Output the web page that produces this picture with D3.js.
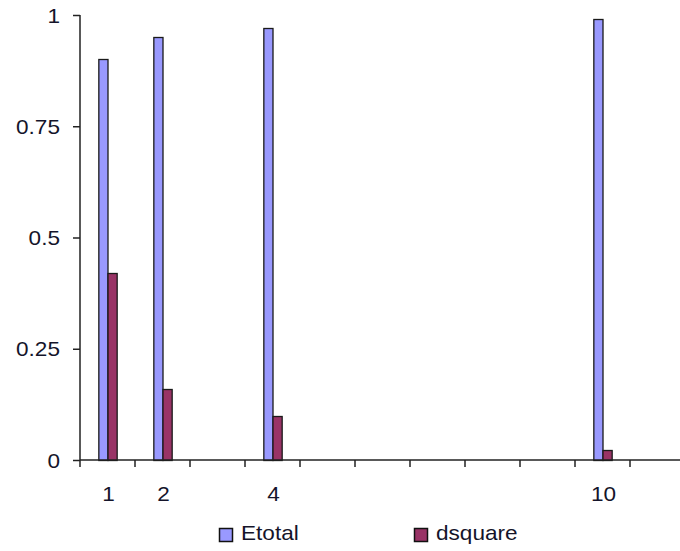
<!DOCTYPE html>
<html>
<head>
<meta charset="utf-8">
<script src="https://cdn.jsdelivr.net/npm/d3@7"></script>
<style>
  html, body { margin: 0; padding: 0; background: #fff; }
  svg { display: block; }
  text { font-family: "Liberation Sans", Arial, sans-serif; fill: #14142a; }
</style>
</head>
<body>
<svg id="chart" width="680" height="551"></svg>
<script>
// Category slots along the x axis (only some carry a label)
const categories = ["1", "2", "3", "4", "5", "6", "7", "8", "9", "10", "11"];
const categoryLabels = ["1", "2", "", "4", "", "", "", "", "", "10", ""];
const seriesNames = ["Etotal", "dsquare"];
// Values per category; null where a slot has no bar
const etotal  = [0.90, 0.95, null, 0.97, null, null, null, null, null, 0.99, null];
const dsquare = [0.42, 0.16, null, 0.10, null, null, null, null, null, 0.022, null];
const yTicks = [0, 0.25, 0.5, 0.75, 1];

const colors = { Etotal: "#9999ff", dsquare: "#993366" };
const svg = d3.select("#chart");

const plotLeft = 80, plotTop = 15, plotBottom = 460, slotW = 55;
const x = d3.scaleBand().domain(categories).range([plotLeft, plotLeft + slotW * categories.length]).padding(0);
const xs = d3.scaleBand().domain(seriesNames).range([0, x.bandwidth()]).paddingInner(0).paddingOuter(2.0);
const y = d3.scaleLinear().domain([0, 1]).range([plotBottom, plotTop]);

const rows = categories.map((c, i) => ({ cat: c, Etotal: etotal[i], dsquare: dsquare[i] }));

// bars
const groups = svg.append("g").selectAll("g").data(rows).join("g")
  .attr("transform", d => `translate(${x(d.cat)},0)`);
groups.selectAll("rect")
  .data(d => seriesNames.filter(s => d[s] != null).map(s => ({ s, v: d[s] })))
  .join("rect")
  .attr("x", d => xs(d.s) + 0.5)
  .attr("width", xs.bandwidth())
  .attr("y", d => Math.round(y(d.v)) + 0.5)
  .attr("height", d => plotBottom - Math.round(y(d.v)))
  .attr("fill", d => colors[d.s])
  .attr("stroke", "#1a1a1a")
  .attr("stroke-width", 1.3);

// y axis
const yAxis = svg.append("g").attr("transform", `translate(${plotLeft},0)`)
  .call(d3.axisLeft(y).tickValues(yTicks).tickSize(7).tickSizeOuter(0).tickFormat(d3.format("")));
yAxis.select(".domain").attr("stroke", "#222").attr("stroke-width", 1.5)
  .attr("d", `M0,${plotTop}V${plotBottom}`);
yAxis.selectAll(".tick line").attr("stroke", "#222").attr("stroke-width", 1.5);
yAxis.selectAll(".tick text")
  .attr("x", 0).attr("dy", "0.36em")
  .attr("transform", "translate(-20,0) scale(1.13,1)")
  .style("font-size", "20px").style("font-family", "Liberation Sans, Arial, sans-serif")
  .attr("fill", "#14142a");

// x axis: baseline, slot-boundary ticks, labels
const xAxis = svg.append("g").attr("transform", `translate(0,${plotBottom})`)
  .call(d3.axisBottom(x).tickSize(0).tickFormat((d, i) => categoryLabels[i]));
xAxis.select(".domain").attr("stroke", "#222").attr("stroke-width", 1.5)
  .attr("d", `M${plotLeft},0H680`);
xAxis.selectAll(".tick text")
  .attr("y", 0).attr("dy", 0)
  .attr("transform", "translate(0,41) scale(1.13,1)")
  .style("font-size", "20px").style("font-family", "Liberation Sans, Arial, sans-serif")
  .attr("fill", "#14142a");
xAxis.selectAll(".tick").attr("transform", d => `translate(${x(d) + x.bandwidth() / 2 + 1},0)`);
xAxis.append("g").selectAll("line").data(categories).join("line")
  .attr("x1", d => x(d)).attr("x2", d => x(d))
  .attr("y1", 0).attr("y2", 7)
  .attr("stroke", "#222").attr("stroke-width", 1.5);

// legend
const legendPos = [{ s: "Etotal", x: 219 }, { s: "dsquare", x: 414 }];
const legend = svg.append("g").selectAll("g").data(legendPos).join("g")
  .attr("transform", d => `translate(${d.x},528)`);
legend.append("rect").attr("x", 0.5).attr("y", 0.5).attr("width", 13).attr("height", 13)
  .attr("fill", d => colors[d.s]).attr("stroke", "#111").attr("stroke-width", 1.5);
legend.append("text")
  .attr("transform", "translate(22,12) scale(1.13,1)")
  .style("font-size", "20px")
  .text(d => d.s);
</script>
</body>
</html>
